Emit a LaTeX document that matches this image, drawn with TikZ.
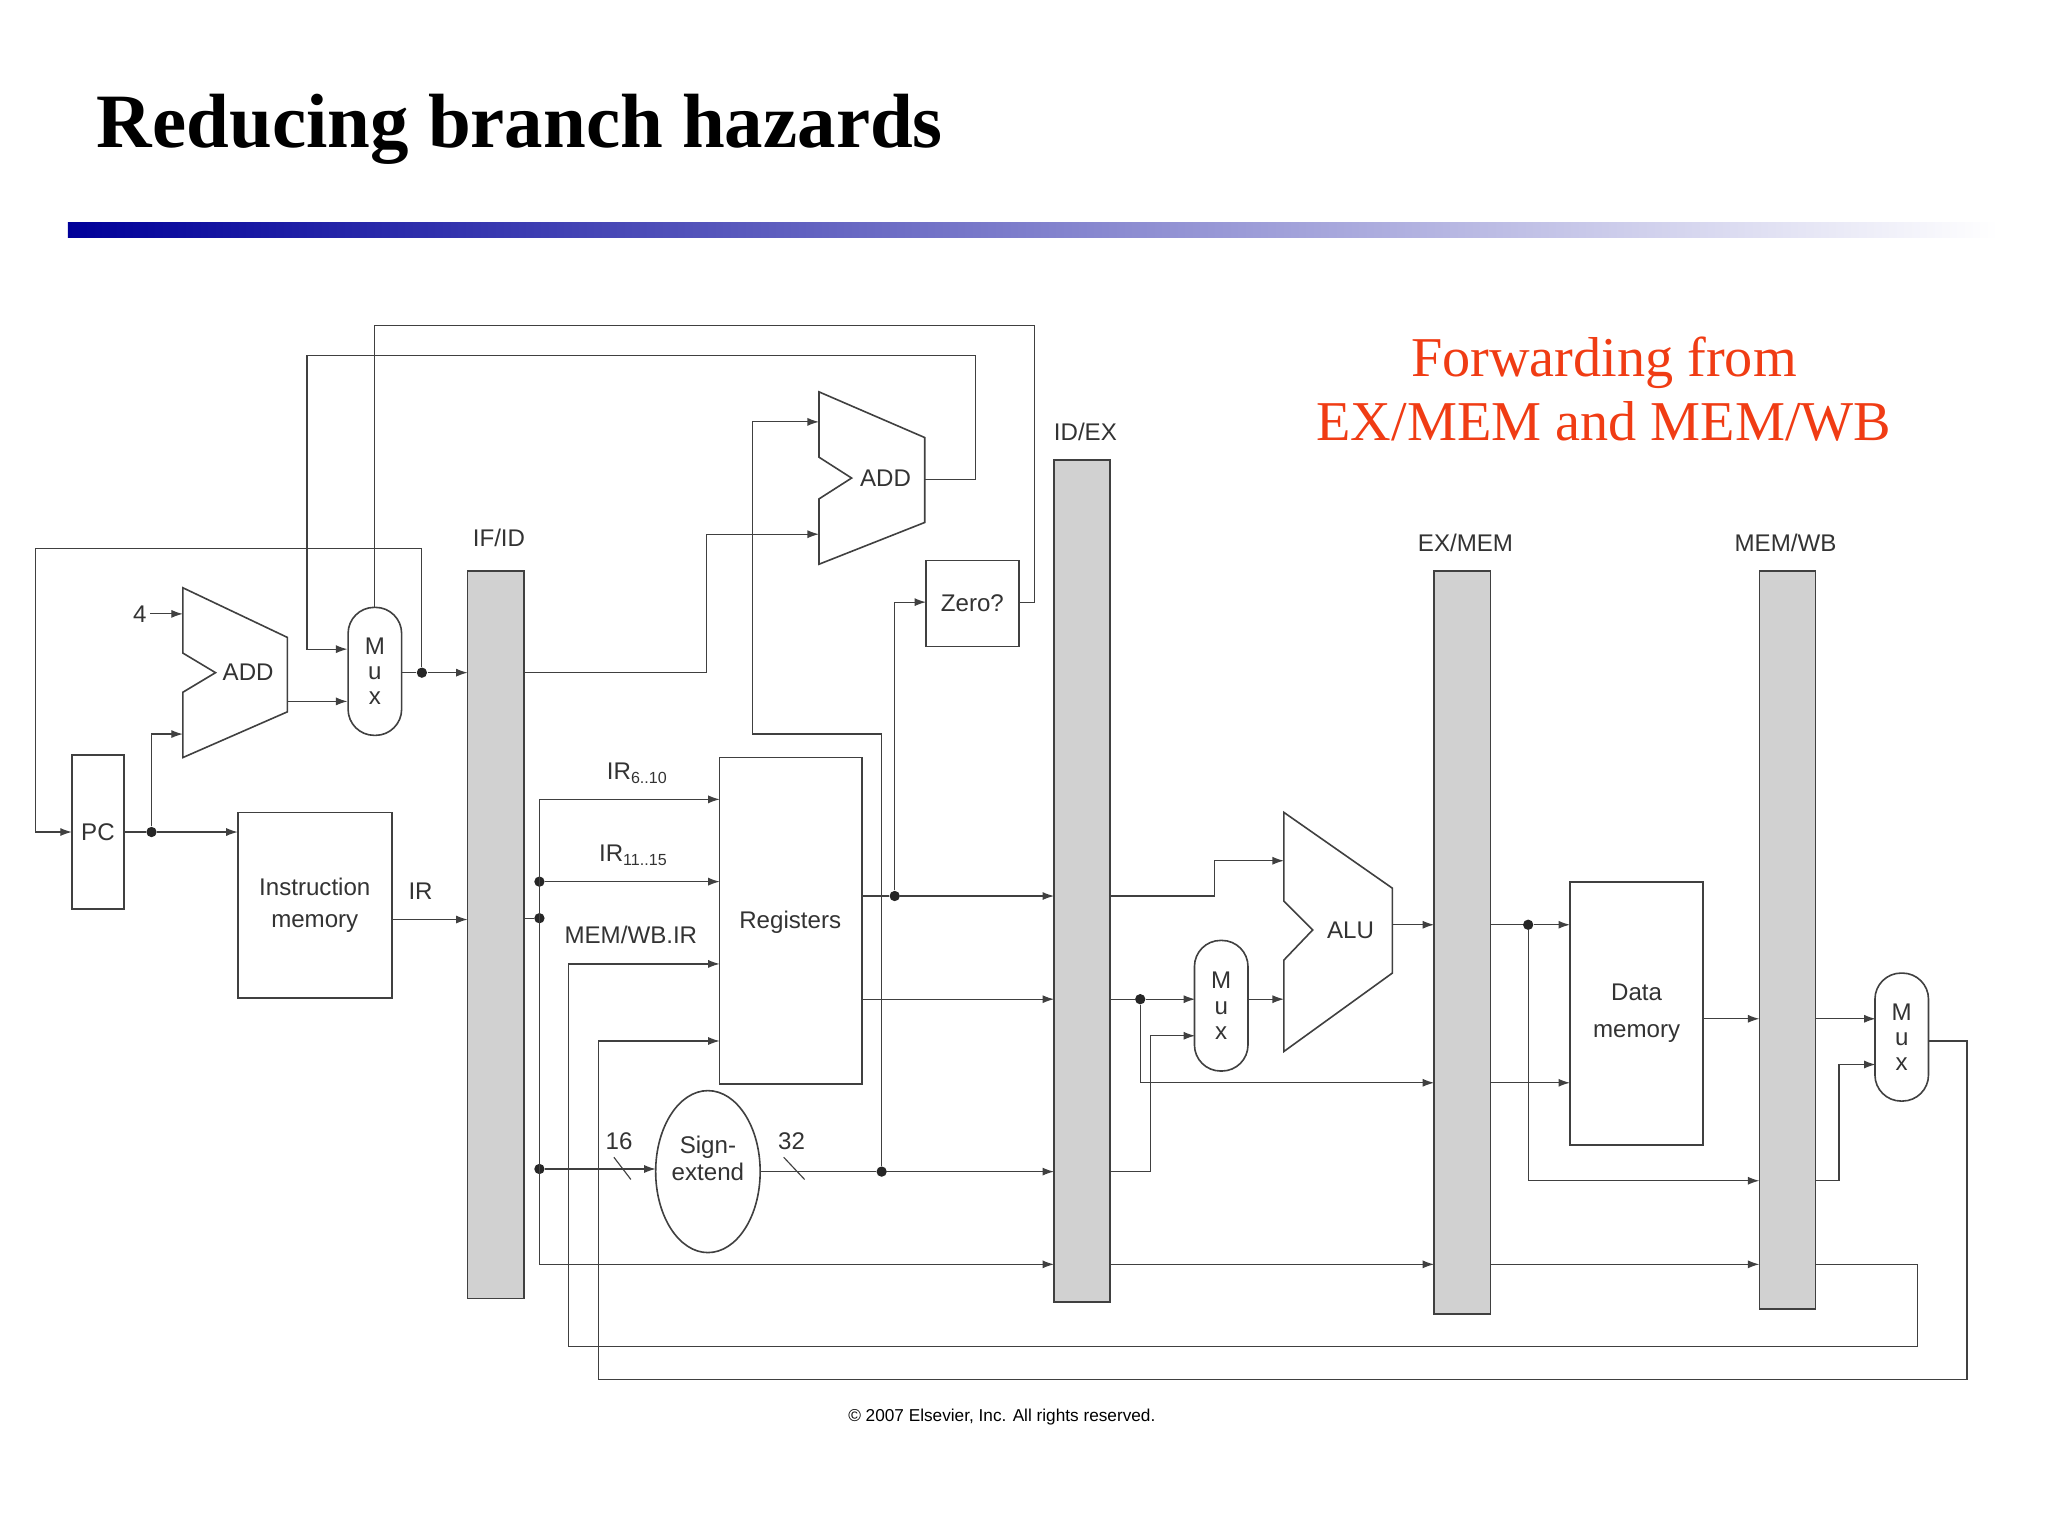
\documentclass[tikz,border=0pt]{standalone}
\usepackage{fontspec}
\setmainfont{Liberation Serif}
\newfontfamily\sans{Liberation Sans}
\usetikzlibrary{arrows.meta,shapes.geometric}
\definecolor{wire}{gray}{0.25}
\definecolor{barfill}{gray}{0.82}
\definecolor{redt}{RGB}{240,60,20}
\begin{document}
\begin{tikzpicture}[x=0.2mm,y=-0.2mm,
  w/.style={draw=wire,line width=0.5pt},
  a/.style={w,-{Latex[length=5pt,width=3.5pt]}},
  bx/.style={draw=wire,line width=0.7pt,fill=white},
  bar/.style={draw=wire,line width=0.7pt,fill=barfill},
  lbl/.style={font=\sans\fontsize{10.5}{12}\selectfont,text=black!80},
  dot/.style={circle,fill=black!85,inner sep=0pt,minimum size=4.5pt}]
\useasboundingbox (0,0) rectangle (1568,1176);
% title
\node[anchor=base west,font=\bfseries\fontsize{33.5}{36}\selectfont] (title) at (68,113) {Reducing branch hazards};
\shade[left color=blue!60!black,right color=white] (52,170) rectangle (1530,182);
\node[text=redt,font=\fontsize{24.5}{28}\selectfont,align=center] (fwd) at (1228,298) {Forwarding from\\EX/MEM and MEM/WB};
% boxes
\node[bx,minimum width=8mm,minimum height=23.6mm,lbl] (pc) at (75,637) {PC};
\node[bx,minimum width=23.6mm,minimum height=28.4mm,lbl,align=center] (im) at (241,693) {Instruction\\[2pt]memory};
\node[bx,minimum width=14.2mm,minimum height=13.2mm,lbl] (zero) at (744.5,462) {Zero?};
\node[bx,minimum width=21.8mm,minimum height=50mm] (reg) at (605.5,705) {};
\node[lbl] (regt) at (605,706) {Registers};
\node[bx,ellipse,minimum width=16mm,minimum height=24.8mm] (se) at (542,897) {};
\node[lbl,align=center] (set) at (542,887) {Sign-\\extend};
\node[bx,minimum width=20.4mm,minimum height=40.2mm,lbl,align=center] (dm) at (1253,776) {Data\\[4pt]memory};
% bars
\node[bar,minimum width=8.6mm,minimum height=111.4mm] (ifid) at (379.5,715.5) {};
\node[bar,minimum width=8.6mm,minimum height=129mm] (idex) at (828.5,674.5) {};
\node[bar,minimum width=8.6mm,minimum height=113.8mm] (exmem) at (1119.5,721.5) {};
\node[bar,minimum width=8.6mm,minimum height=113mm] (memwb) at (1368.5,719.5) {};
\node[lbl] (l1) at (382,412) {IF/ID};
\node[lbl] (l2) at (831,331) {ID/EX};
\node[lbl] (l3) at (1122,416) {EX/MEM};
\node[lbl] (l4) at (1367,416) {MEM/WB};
% muxes
\foreach \n/\x/\y/\h in {mx1/287/514/98, mx2/935/770/100, mx3/1456/794/98}{
  \node[bx,rounded corners=4mm,minimum width=8.2mm,minimum height=\h*0.2mm,lbl,align=center,inner sep=1pt] (\n) at (\x,\y) {M\\[-1pt]u\\[-1pt]x};
}
% ALUs
\draw[bx] (140,450) -- (220,488) -- (220,545) -- (140,580) -- (140,530) -- (165,515) -- (140,500) -- cycle;
\node[lbl] (add1) at (190,515) {ADD};
\draw[bx] (627,300) -- (708,335) -- (708,400) -- (627,432) -- (627,382) -- (652,366) -- (627,350) -- cycle;
\node[lbl] (add2) at (678,366) {ADD};
\draw[bx] (983,622) -- (1066,680) -- (1066,745) -- (983,805) -- (983,735) -- (1005,712) -- (983,690) -- cycle;
\node[lbl] (alu) at (1034,712) {ALU};
% labels
\node[lbl] (four) at (107,470) {4};
\node[lbl] (irl) at (322,682) {IR};
\node[lbl] (ir1) at (488,592) {IR\textsubscript{\fontsize{7}{8}\selectfont 6..10}};
\node[lbl] (ir2) at (485,655) {IR\textsubscript{\fontsize{7}{8}\selectfont 11..15}};
\node[lbl] (mwir) at (483,716) {MEM/WB.IR};
\node[lbl] (n16) at (474,874) {16};
\node[lbl] (n32) at (606,874) {32};
\node[font=\sans\fontsize{7.5}{9}\selectfont] (copy) at (767,1085) {\textcopyright\ 2007 Elsevier, Inc. All rights reserved.};
% wires IF
\node[dot] (d1) at (116,637) {};
\draw[w] (95,637) -- (d1); \draw[a] (d1) -- (182,637);
\draw[a] (d1) |- (140,562);
\draw[a] (115,470) -- (140,470);
\draw[a] (220,537) -- (266,537);
\node[dot] (d2) at (323,515) {};
\draw[w] (308,515) -- (d2); \draw[a] (d2) -- (358,515);
\draw[a] (d2) -- (323,420) -- (27,420) -- (27,637) -- (55,637);
\draw[w] (287,465) -- (287,249) -- (792,249) -- (792,461) -- (780,461);
\draw[a] (708,367) -- (747,367) -- (747,272) -- (235,272) -- (235,497) -- (266,497);
\draw[a] (300,704) -- (358,704);
% ID
\draw[a] (401,515) -- (541,515) -- (541,409) -- (627,409);
\node[dot] (d3) at (413,675) {};
\node[dot] (d4) at (413,703) {};
\node[dot] (d5) at (413,895) {};
\draw[w] (401,703) -- (d4);
\draw[w] (413,612) -- (413,968);
\draw[a] (413,612) -- (551,612);
\draw[a] (d3) -- (551,675);
\draw[a] (d5) -- (502,895);
\draw[w] (470,886) -- (483,903);
\draw[w] (600,886) -- (616,903);
\draw[a] (413,968) -- (807,968);
\node[dot] (d6) at (675,897) {};
\draw[w] (582,897) -- (d6); \draw[a] (d6) -- (807,897);
\draw[a] (d6) -- (675,562) -- (576,562) -- (576,323) -- (627,323);
\node[dot] (d7) at (685,686) {};
\draw[w] (660,686) -- (d7); \draw[a] (d7) -- (807,686);
\draw[a] (d7) -- (685,461) -- (709,461);
\draw[a] (660,765) -- (807,765);
\draw[a] (1390,968) -- (1468,968) -- (1468,1031) -- (435,1031) -- (435,738) -- (551,738);
\draw[a] (1476,797) -- (1506,797) -- (1506,1056) -- (458,1056) -- (458,797) -- (551,797);
% EX
\draw[a] (850,686) -- (930,686) -- (930,659) -- (983,659);
\node[dot] (d8) at (873,765) {};
\draw[w] (850,765) -- (d8); \draw[a] (d8) -- (915,765);
\draw[a] (d8) -- (873,829) -- (1098,829);
\draw[a] (850,897) -- (881,897) -- (881,793) -- (915,793);
\draw[a] (955,765) -- (983,765);
\draw[a] (1066,708) -- (1098,708);
\draw[a] (850,968) -- (1098,968);
% MEM
\node[dot] (d9) at (1170,708) {};
\draw[w] (1141,708) -- (d9); \draw[a] (d9) -- (1202,708);
\draw[a] (d9) -- (1170,904) -- (1347,904);
\draw[a] (1141,829) -- (1202,829);
\draw[a] (1304,780) -- (1347,780);
\draw[a] (1141,968) -- (1347,968);
% WB
\draw[a] (1390,780) -- (1436,780);
\draw[a] (1390,904) -- (1408,904) -- (1408,815) -- (1436,815);
\end{tikzpicture}
\end{document}
